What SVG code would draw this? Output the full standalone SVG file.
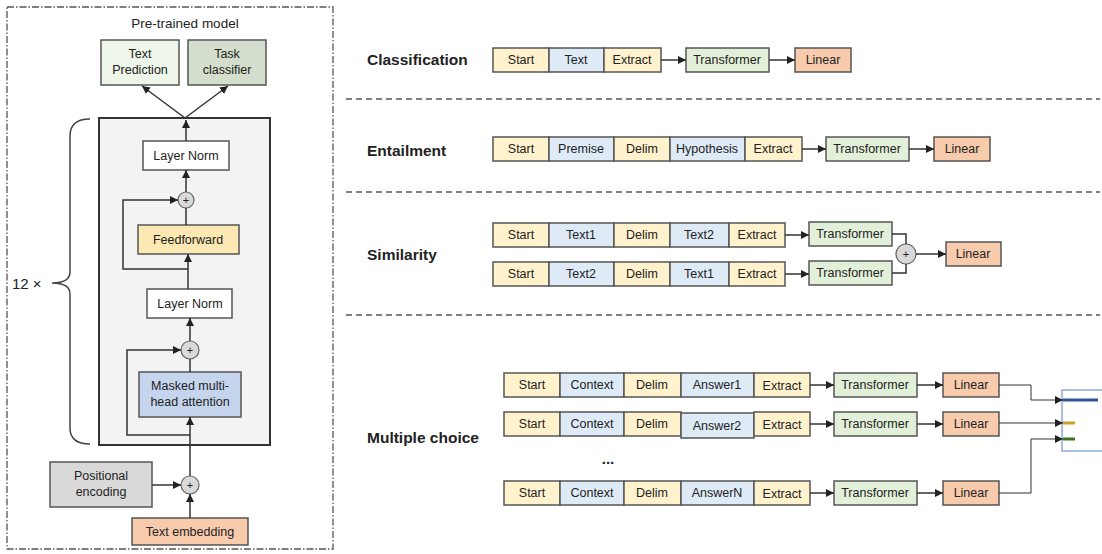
<svg xmlns="http://www.w3.org/2000/svg" width="1102" height="554" viewBox="0 0 1102 554">
<defs>
<marker id="ah" viewBox="0 0 10 10" refX="10" refY="5" markerWidth="8" markerHeight="8" markerUnits="userSpaceOnUse" orient="auto">
<path d="M0,0 L10,5 L0,10 z" fill="#222"/>
</marker>
<style>
text{font-family:"Liberation Sans",Arial,sans-serif;fill:#222}
.t{font-size:12.5px;text-anchor:middle}
.lbl{font-size:15.5px;font-weight:bold}
.bx{stroke:#555;stroke-width:1.5}
.y{fill:#fff2cc}
.b{fill:#deebf7}
.g{fill:#e2f0d9}
.o{fill:#f8cbad}
.w{fill:#fff}
.ln{fill:none;stroke:#333;stroke-width:1.5}
.ar{fill:none;stroke:#333;stroke-width:1.5;marker-end:url(#ah)}
.sep{stroke:#555;stroke-width:1.5;stroke-dasharray:6 4}
.cir{fill:#d9d9d9;stroke:#666;stroke-width:1.2}
</style>
</defs>
<rect width="1102" height="554" fill="#fff"/>

<!-- Left panel -->
<g id="pretrained-frame">
<rect x="7" y="7" width="326" height="542" fill="none" stroke="#555" stroke-width="1.3" stroke-dasharray="7 2 1.5 2"/>
<text class="t" x="185" y="28" style="font-size:13.5px">Pre-trained model</text>
</g>
<g id="block-frame">
<rect x="99" y="118" width="171" height="327" fill="#f3f3f3" stroke="#333" stroke-width="2"/>
</g>
<g id="brace">
<path d="M90,119 Q70,119 70,136 L70,272 Q70,283 52,283 Q70,283 70,294 L70,428 Q70,444 90,444" fill="none" stroke="#444" stroke-width="1.5"/>
<text x="12" y="289" style="font-size:15px">12 ×</text>
</g>
<g id="text-prediction">
<rect class="bx" x="101" y="40" width="78" height="45" fill="#eef5e9"/>
<text class="t" x="140" y="58">Text</text><text class="t" x="140" y="74">Prediction</text>
</g>
<g id="task-classifier">
<rect class="bx" x="188" y="40" width="78" height="45" fill="#d3dfcc"/>
<text class="t" x="227" y="58">Task</text><text class="t" x="227" y="74">classifier</text>
</g>
<g id="layer-norm-1">
<rect class="bx w" x="143" y="141" width="86" height="29"/>
<text class="t" x="186" y="160">Layer Norm</text>
</g>
<g id="add-1"><circle class="cir" cx="186" cy="200" r="8"/><text class="t" x="186" y="204" style="font-size:11px">+</text></g>
<g id="feedforward">
<rect class="bx" x="138" y="225" width="101" height="29" fill="#fce8b2"/>
<text class="t" x="188" y="244">Feedforward</text>
</g>
<g id="layer-norm-2">
<rect class="bx w" x="147" y="289" width="85" height="29"/>
<text class="t" x="190" y="308">Layer Norm</text>
</g>
<g id="add-2"><circle class="cir" cx="190" cy="350" r="9"/><text class="t" x="190" y="354" style="font-size:11px">+</text></g>
<g id="masked-attention">
<rect class="bx" x="139" y="372" width="102" height="45" fill="#c5d5ee"/>
<text class="t" x="190" y="390">Masked multi-</text><text class="t" x="190" y="406">head attention</text>
</g>
<g id="positional-encoding">
<rect class="bx" x="50" y="462" width="102" height="45" fill="#d9d9d9"/>
<text class="t" x="101" y="480">Positional</text><text class="t" x="101" y="496">encoding</text>
</g>
<g id="add-3"><circle class="cir" cx="190" cy="485" r="9"/><text class="t" x="190" y="489" style="font-size:11px">+</text></g>
<g id="text-embedding">
<rect class="bx" x="132" y="518" width="116" height="27" fill="#f8cbad"/>
<text class="t" x="190" y="536">Text embedding</text>
</g>

<!-- Right side rows -->
<g id="separators">
<line class="sep" x1="346" y1="99" x2="1100" y2="99"/>
<line class="sep" x1="346" y1="192" x2="1100" y2="192"/>
<line class="sep" x1="346" y1="315" x2="1100" y2="315"/>
</g>

<g id="classification">
<text class="lbl" x="367" y="65">Classification</text>
<rect class="bx y" x="493" y="48" width="56" height="24"/><text class="t" x="521" y="64">Start</text>
<rect class="bx b" x="549" y="48" width="55" height="24"/><text class="t" x="576" y="64">Text</text>
<rect class="bx y" x="604" y="48" width="57" height="24"/><text class="t" x="632" y="64">Extract</text>
<rect class="bx g" x="686" y="48" width="83" height="24"/><text class="t" x="727" y="64">Transformer</text>
<rect class="bx o" x="795" y="48" width="56" height="24"/><text class="t" x="823" y="64">Linear</text>
</g>

<g id="entailment">
<text class="lbl" x="367" y="156">Entailment</text>
<rect class="bx y" x="493" y="137" width="56" height="24"/><text class="t" x="521" y="153">Start</text>
<rect class="bx b" x="549" y="137" width="65" height="24"/><text class="t" x="581" y="153">Premise</text>
<rect class="bx y" x="614" y="137" width="56" height="24"/><text class="t" x="642" y="153">Delim</text>
<rect class="bx b" x="670" y="137" width="75" height="24"/><text class="t" x="707" y="153">Hypothesis</text>
<rect class="bx y" x="745" y="137" width="57" height="24"/><text class="t" x="773" y="153">Extract</text>
<rect class="bx g" x="826" y="137" width="83" height="24"/><text class="t" x="867" y="153">Transformer</text>
<rect class="bx o" x="934" y="137" width="56" height="24"/><text class="t" x="962" y="153">Linear</text>
</g>

<g id="similarity">
<text class="lbl" x="367" y="260">Similarity</text>
<rect class="bx y" x="493" y="223" width="56" height="24"/><text class="t" x="521" y="239">Start</text>
<rect class="bx b" x="549" y="223" width="65" height="24"/><text class="t" x="581" y="239">Text1</text>
<rect class="bx y" x="614" y="223" width="56" height="24"/><text class="t" x="642" y="239">Delim</text>
<rect class="bx b" x="670" y="223" width="59" height="24"/><text class="t" x="699" y="239">Text2</text>
<rect class="bx y" x="729" y="223" width="56" height="24"/><text class="t" x="757" y="239">Extract</text>
<rect class="bx y" x="493" y="262" width="56" height="24"/><text class="t" x="521" y="278">Start</text>
<rect class="bx b" x="549" y="262" width="65" height="24"/><text class="t" x="581" y="278">Text2</text>
<rect class="bx y" x="614" y="262" width="56" height="24"/><text class="t" x="642" y="278">Delim</text>
<rect class="bx b" x="670" y="262" width="59" height="24"/><text class="t" x="699" y="278">Text1</text>
<rect class="bx y" x="729" y="262" width="56" height="24"/><text class="t" x="757" y="278">Extract</text>
<rect class="bx g" x="809" y="222" width="83" height="24"/><text class="t" x="850" y="238">Transformer</text>
<rect class="bx g" x="809" y="261" width="83" height="24"/><text class="t" x="850" y="277">Transformer</text>
<circle class="cir" cx="906" cy="254" r="10"/><text class="t" x="906" y="258" style="font-size:11px">+</text>
<rect class="bx o" x="946" y="242" width="55" height="24"/><text class="t" x="973" y="258">Linear</text>
</g>

<g id="multiple-choice">
<text class="lbl" x="367" y="443">Multiple choice</text>
<rect class="bx y" x="504" y="373" width="56" height="24"/><text class="t" x="532" y="389">Start</text>
<rect class="bx b" x="560" y="373" width="64" height="24"/><text class="t" x="592" y="389">Context</text>
<rect class="bx y" x="624" y="373" width="57" height="24"/><text class="t" x="652" y="389">Delim</text>
<rect class="bx b" x="681" y="373" width="73" height="24"/><text class="t" x="717" y="389">Answer1</text>
<rect class="bx y" x="754" y="373" width="56" height="24"/><text class="t" x="782" y="390">Extract</text>
<rect class="bx g" x="834" y="373" width="83" height="24"/><text class="t" x="875" y="389">Transformer</text>
<rect class="bx o" x="943" y="373" width="56" height="24"/><text class="t" x="971" y="389">Linear</text>

<rect class="bx y" x="504" y="412" width="56" height="24"/><text class="t" x="532" y="428">Start</text>
<rect class="bx b" x="560" y="412" width="64" height="24"/><text class="t" x="592" y="428">Context</text>
<rect class="bx y" x="624" y="412" width="57" height="24"/><text class="t" x="652" y="428">Delim</text>
<rect class="bx b" x="681" y="413" width="73" height="25"/><text class="t" x="717" y="430">Answer2</text>
<rect class="bx y" x="754" y="412" width="56" height="24"/><text class="t" x="782" y="429">Extract</text>
<rect class="bx g" x="834" y="412" width="83" height="24"/><text class="t" x="875" y="428">Transformer</text>
<rect class="bx o" x="943" y="412" width="56" height="24"/><text class="t" x="971" y="428">Linear</text>

<text class="t" x="608" y="464" style="font-size:15px;font-weight:bold">...</text>

<rect class="bx y" x="504" y="481" width="56" height="24"/><text class="t" x="532" y="497">Start</text>
<rect class="bx b" x="560" y="481" width="64" height="24"/><text class="t" x="592" y="497">Context</text>
<rect class="bx y" x="624" y="481" width="57" height="24"/><text class="t" x="652" y="497">Delim</text>
<rect class="bx b" x="681" y="481" width="73" height="24"/><text class="t" x="717" y="497">AnswerN</text>
<rect class="bx y" x="754" y="481" width="56" height="24"/><text class="t" x="782" y="498">Extract</text>
<rect class="bx g" x="834" y="481" width="83" height="24"/><text class="t" x="875" y="497">Transformer</text>
<rect class="bx o" x="943" y="481" width="56" height="24"/><text class="t" x="971" y="497">Linear</text>
</g>

<g id="output-scores">
<rect x="1062" y="390" width="50" height="61" fill="#fff" stroke="#8eaadb" stroke-width="1.5"/>
<line x1="1063" y1="400" x2="1098" y2="400" stroke="#2f5597" stroke-width="3"/>
<line x1="1063" y1="423" x2="1075" y2="423" stroke="#c9a227" stroke-width="3"/>
<line x1="1063" y1="439" x2="1075" y2="439" stroke="#38761d" stroke-width="3"/>
</g>

<g id="connectors">
<!-- left panel -->
<path class="ar" d="M185,118 L142,86"/>
<path class="ar" d="M185,118 L228,86"/>
<path class="ar" d="M186,141 L186,120"/>
<path class="ar" d="M186,192 L186,170"/>
<path class="ln" d="M186,225 L186,208"/>
<path class="ar" d="M188,289 L188,254"/>
<path class="ar" d="M188,269 L123,269 L123,200 L178,200"/>
<path class="ar" d="M190,341 L190,318"/>
<path class="ln" d="M190,372 L190,359"/>
<path class="ar" d="M190,476 L190,417"/>
<path class="ar" d="M190,435 L127,435 L127,350 L181,350"/>
<path class="ar" d="M152,485 L181,485"/>
<path class="ar" d="M190,518 L190,494"/>
<!-- classification -->
<path class="ar" d="M661,60 L686,60"/>
<path class="ar" d="M769,60 L795,60"/>
<!-- entailment -->
<path class="ar" d="M802,149 L826,149"/>
<path class="ar" d="M909,149 L934,149"/>
<!-- similarity -->
<path class="ar" d="M785,235 L809,235"/>
<path class="ar" d="M785,274 L809,274"/>
<path class="ln" d="M892,234 L906,234 L906,244"/>
<path class="ln" d="M892,273 L906,273 L906,264"/>
<path class="ar" d="M916,254 L946,254"/>
<!-- multiple choice -->
<path class="ar" d="M810,385 L834,385"/>
<path class="ar" d="M917,385 L943,385"/>
<path class="ar" d="M810,424 L834,424"/>
<path class="ar" d="M917,424 L943,424"/>
<path class="ar" d="M810,493 L834,493"/>
<path class="ar" d="M917,493 L943,493"/>
<path class="ar" d="M999,385 L1031,385 L1031,400 L1063,400" style="stroke-width:1"/>
<path class="ar" d="M999,423 L1063,423" style="stroke-width:1"/>
<path class="ar" d="M999,493 L1031,493 L1031,439 L1063,439" style="stroke-width:1"/>
</g>
</svg>
